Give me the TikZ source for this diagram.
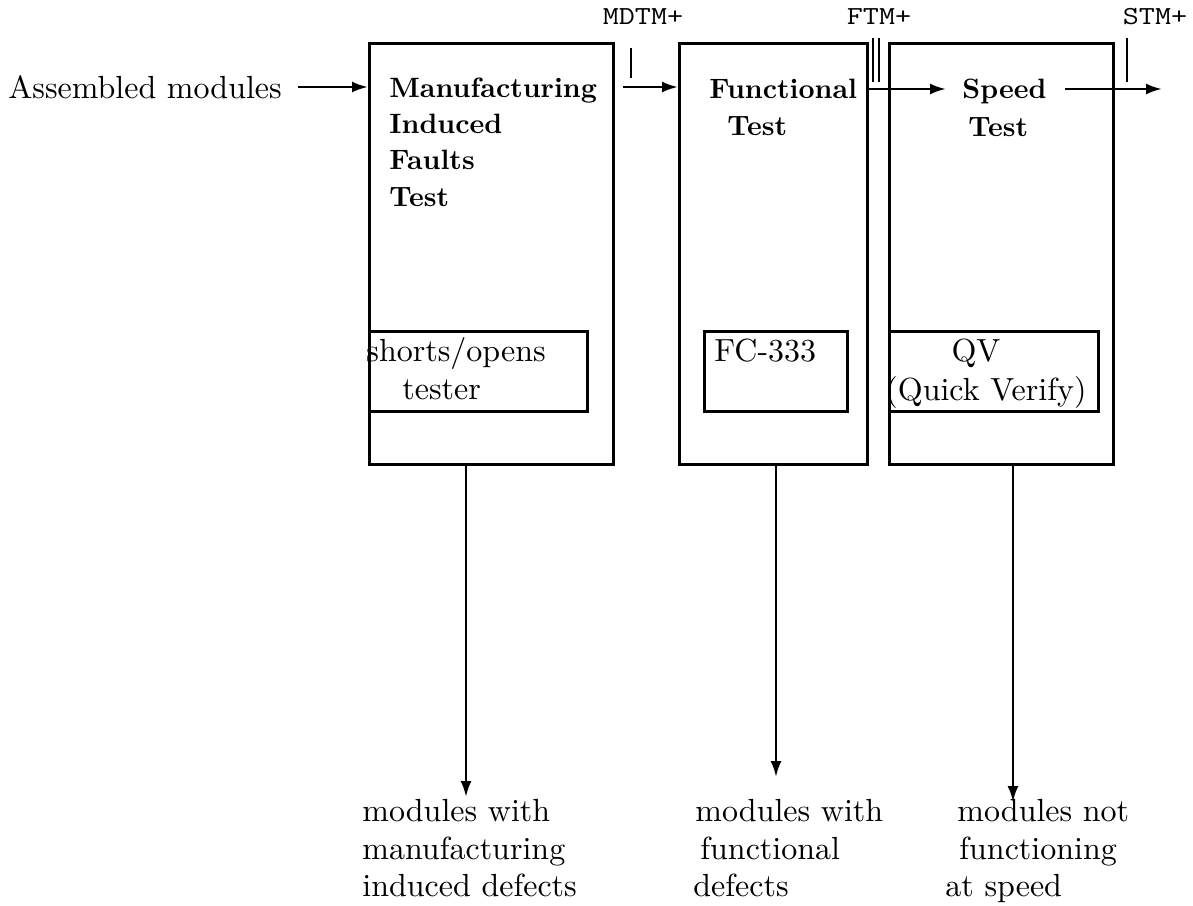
\documentclass[tikz,border=0pt]{standalone}
\usetikzlibrary{arrows.meta}
\newcommand\rtx[1]{\scalebox{1.6}{\fontsize{10}{12}\selectfont #1}}
\newcommand\btx[1]{\scalebox{1.4}{\fontsize{10}{12}\selectfont\bfseries #1}}
\newcommand\ttx[1]{\scalebox{1.2}[1]{\fontsize{13}{15}\selectfont\ttfamily #1}}
\begin{document}
\begin{tikzpicture}[x=0.5pt,y=-0.5pt,
  box/.style={draw, line width=1.5pt, inner sep=0pt, anchor=north west},
  title/.style={anchor=base west, inner sep=0pt},
  txt/.style={anchor=base west, inner sep=0pt},
  arr/.style={line width=1.3pt, -{Latex[length=8pt,width=5.5pt]}},
  tick/.style={line width=1.3pt},
  tag/.style={inner sep=0pt}]
\useasboundingbox (0,0) rectangle (1193,905);
% outer boxes
\node[box, minimum width=122pt, minimum height=210.5pt] (b1) at (368,42) {};
\node[box, minimum width=94pt, minimum height=210.5pt] (b2) at (678,42) {};
\node[box, minimum width=112pt, minimum height=210.5pt] (b3) at (888,42) {};
% inner boxes
\node[box, minimum width=109pt, minimum height=40pt] (i1) at (368,330) {};
\node[box, minimum width=71.5pt, minimum height=40pt] (i2) at (703,330) {};
\node[box, minimum width=104.5pt, minimum height=40pt] (i3) at (888,330) {};
% titles
\node[title] (t1a) at (389,97) {\btx{Manufacturing}};
\node[title] (t1b) at (389,133) {\btx{Induced}};
\node[title] (t1c) at (389,169) {\btx{Faults}};
\node[title] (t1d) at (389,206) {\btx{Test}};
\node[title] (t2a) at (709,98) {\btx{Functional}};
\node[title] (t2b) at (727,135) {\btx{Test}};
\node[title] (t3a) at (962,98) {\btx{Speed}};
\node[title] (t3b) at (968,136) {\btx{Test}};
% inner texts
\node[txt] (s1) at (366,361) {\rtx{shorts/opens}};
\node[txt] (s2) at (402,399) {\rtx{tester}};
\node[txt] (fc) at (714,361) {\rtx{FC-333}};
\node[txt, anchor=base] (qv) at (976,361) {\rtx{QV}};
\node[txt] (qvb) at (885,400) {\rtx{(Quick Verify)}};
% input
\node[txt, anchor=west] (am) at (8,87) {\rtx{Assembled modules}};
% tags
\node[tag] (mdtm) at (643,17) {\ttx{MDTM+}};
\node[tag] (ftm) at (879,17) {\ttx{FTM+}};
\node[tag] (stm) at (1155,17) {\ttx{STM+}};
\draw[tick] (631,48) -- (631,78);
\draw[tick] (873,38) -- (873,82);
\draw[tick] (879,38) -- (879,82);
\draw[tick] (1127,38) -- (1127,82);
% horizontal arrows
\draw[arr, shorten <=8pt] (am.east) -- (am.east -| b1.west);
\draw[arr, shorten <=4pt] (b1.east |- am.east) -- (b2.west |- am.east);
\coordinate (sp) at (946,89);
\draw[arr] (b2.east |- sp) -- (sp);
\coordinate (so) at (1162,89);
\draw[arr, shorten <=9pt] (t3a.east |- so) -- (so);
% down arrows
\coordinate (d1) at (466,797);
\coordinate (d2) at (776,777);
\coordinate (d3) at (1013,802);
\draw[arr] (b1.south -| d1) -- (d1);
\draw[arr] (b2.south -| d2) -- (d2);
\draw[arr] (b3.south -| d3) -- (d3);
% bottom labels
\node[txt] (l1a) at (362,821) {\rtx{modules with}};
\node[txt] (l1b) at (362,859) {\rtx{manufacturing}};
\node[txt] (l1c) at (362,896) {\rtx{induced defects}};
\node[txt] (l2a) at (695,821) {\rtx{modules with}};
\node[txt] (l2b) at (700,859) {\rtx{functional}};
\node[txt] (l2c) at (693,896) {\rtx{defects}};
\node[txt] (l3a) at (957,821) {\rtx{modules not}};
\node[txt] (l3b) at (959,859) {\rtx{functioning}};
\node[txt] (l3c) at (945,896) {\rtx{at speed}};
\end{tikzpicture}
\end{document}
